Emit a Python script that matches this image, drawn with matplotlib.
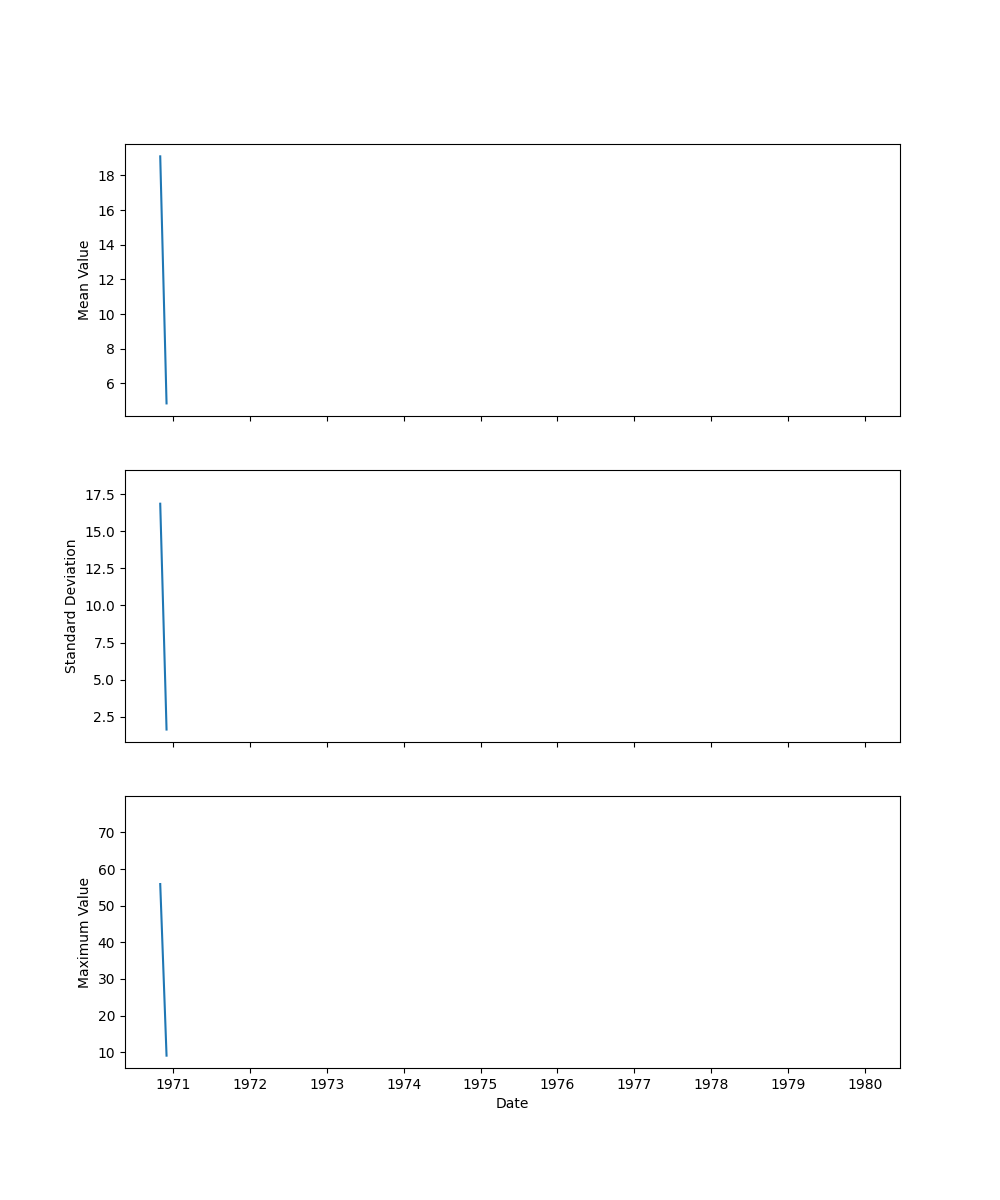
import numpy as np
import pandas as pd
import matplotlib
matplotlib.use("Agg")
import matplotlib.pyplot as plt

# Data (NaN = missing; isolated values are not drawn as line segments)
dates = pd.to_datetime(["1970-11-01", "1970-12-01", "1971-01-01", "1980-01-01"])
mean_values = [19.1, 4.85, np.nan, 10.0]
std_values = [16.85, 1.65, np.nan, 18.28]
max_values = [55.9, 9.05, np.nan, 76.5]

fig, axes = plt.subplots(3, 1, figsize=(10, 12), sharex=True)

axes[0].plot(dates, mean_values)
axes[0].set_ylabel("Mean Value")

axes[1].plot(dates, std_values)
axes[1].set_ylabel("Standard Deviation")

axes[2].plot(dates, max_values)
axes[2].set_ylabel("Maximum Value")
axes[2].set_xlabel("Date")

fig.savefig("out.png", dpi=100)
